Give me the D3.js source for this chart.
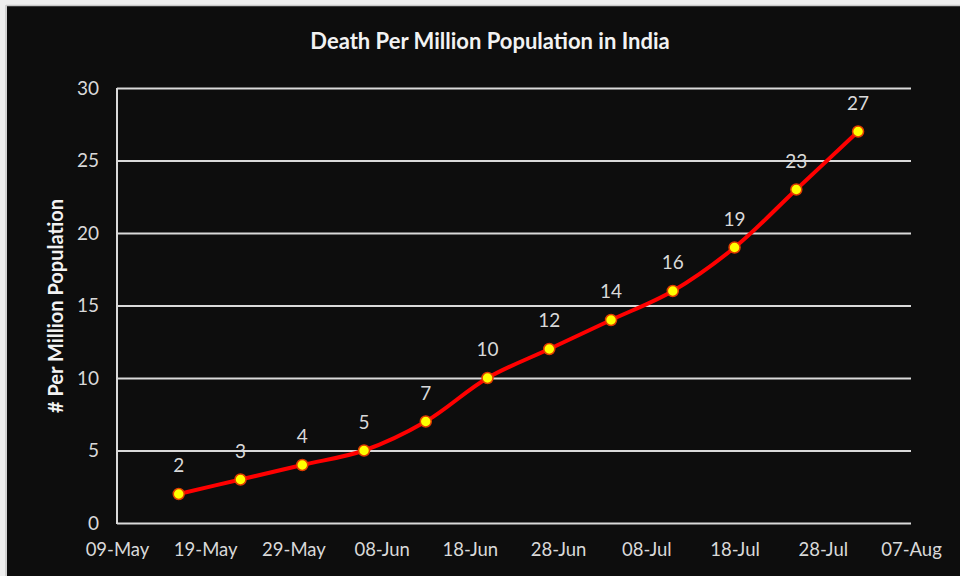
<!DOCTYPE html>
<html>
<head>
<meta charset="utf-8">
<script src="https://cdn.jsdelivr.net/npm/d3@7"></script>
<style>
  html, body { margin: 0; padding: 0; background: #eeeeee; }
  svg { display: block; }
</style>
</head>
<body>
<svg class="chart" width="960" height="576"></svg>
<script>
// weekly values
var dates = ["2020-05-16", "2020-05-23", "2020-05-30", "2020-06-06", "2020-06-13", "2020-06-20",
             "2020-06-27", "2020-07-04", "2020-07-11", "2020-07-18", "2020-07-25", "2020-08-01"];
var deaths = [2, 3, 4, 5, 7, 10, 12, 14, 16, 19, 23, 27];
var xTicks = ["2020-05-09", "2020-05-19", "2020-05-29", "2020-06-08", "2020-06-18", "2020-06-28",
              "2020-07-08", "2020-07-18", "2020-07-28", "2020-08-07"];
var yTicks = [0, 5, 10, 15, 20, 25, 30];

var parse = d3.timeParse("%Y-%m-%d");
var fmt = d3.timeFormat("%d-%b");

var data = dates.map(function (d, i) { return { date: parse(d), v: deaths[i] }; });

var svg = d3.select(".chart");
var font = "Lato, 'Open Sans', sans-serif";

// dark plate, light frame shows on top/left
svg.append("rect")
    .attr("x", 7).attr("y", 6)
    .attr("width", 953).attr("height", 570)
    .style("fill", "#0d0d0d");
svg.append("line")
    .attr("x1", 6).attr("x2", 6).attr("y1", 5).attr("y2", 576)
    .style("stroke", "#c8c8c8").style("stroke-width", 1.5);
svg.append("line")
    .attr("x1", 6).attr("x2", 960).attr("y1", 5.5).attr("y2", 5.5)
    .style("stroke", "#c8c8c8").style("stroke-width", 1.5);

var x = d3.scaleTime()
    .domain([parse(xTicks[0]), parse(xTicks[xTicks.length - 1])])
    .range([117, 911]);

var y = d3.scaleLinear()
    .domain([0, 30])
    .range([523, 88]);

// gridlines
var yAxis = d3.axisLeft(y)
    .tickValues(yTicks)
    .tickSize(-(911 - 117))
    .tickPadding(24);

var gy = svg.append("g")
    .attr("transform", "translate(117,0)")
    .call(yAxis);
gy.select(".domain").remove();
gy.selectAll(".tick line")
    .style("stroke", "#d9d9d9").style("stroke-width", 2);
gy.selectAll(".tick text")
    .style("fill", "#d9d9d9")
    .style("font-family", font)
    .style("font-size", "19px")
    .attr("x", -18);

// vertical axis line
svg.append("line")
    .attr("x1", 117).attr("x2", 117)
    .attr("y1", 88).attr("y2", 524)
    .style("stroke", "#d9d9d9").style("stroke-width", 2);

var xAxis = d3.axisBottom(x)
    .tickValues(xTicks.map(parse))
    .tickFormat(fmt)
    .tickSize(0)
    .tickPadding(20);

var gx = svg.append("g")
    .attr("transform", "translate(0,523)")
    .call(xAxis);
gx.select(".domain").remove();
gx.selectAll(".tick text")
    .style("fill", "#d9d9d9")
    .style("font-family", font)
    .style("font-size", "18.5px");

// title
svg.append("text")
    .attr("x", 490).attr("y", 49)
    .attr("text-anchor", "middle")
    .style("fill", "#f2f2f2")
    .style("font-family", font)
    .style("font-weight", "bold")
    .style("font-size", "22px")
    .text("Death Per Million Population in India");

// y title
svg.append("text")
    .attr("transform", "translate(63,306) rotate(-90)")
    .attr("text-anchor", "middle")
    .style("fill", "#f2f2f2")
    .style("font-family", font)
    .style("font-weight", "bold")
    .style("font-size", "20px")
    .text("# Per Million Population");

// line
var line = d3.line()
    .x(function (d) { return x(d.date); })
    .y(function (d) { return y(d.v); })
    .curve(d3.curveCatmullRom.alpha(0.5));

svg.append("path")
    .datum(data)
    .attr("d", line)
    .style("fill", "none")
    .style("stroke", "#ff0000")
    .style("stroke-width", 4)
    .style("stroke-linejoin", "round");

svg.selectAll(".dot")
    .data(data)
    .enter().append("circle")
    .attr("class", "dot")
    .attr("cx", function (d) { return x(d.date); })
    .attr("cy", function (d) { return y(d.v); })
    .attr("r", 5.5)
    .style("fill", "#ffff00")
    .style("stroke", "#e03c00")
    .style("stroke-width", 1.5);

svg.selectAll(".lbl")
    .data(data)
    .enter().append("text")
    .attr("class", "lbl")
    .attr("x", function (d) { return x(d.date); })
    .attr("y", function (d) { return y(d.v) - 22; })
    .attr("text-anchor", "middle")
    .style("fill", "#d9d9d9")
    .style("font-family", font)
    .style("font-size", "19px")
    .text(function (d) { return d.v; });
</script>
</body>
</html>
